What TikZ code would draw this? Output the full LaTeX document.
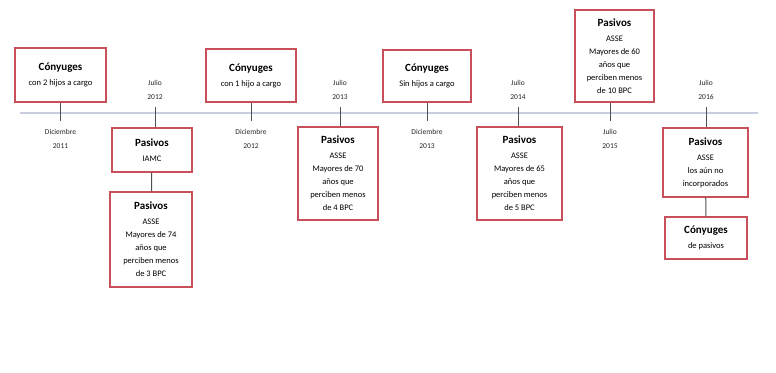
\documentclass[tikz,border=0pt]{standalone}
\usepackage{fontspec}
\setmainfont{Carlito}
\usepackage{tikz}
\definecolor{boxred}{RGB}{200,80,90}
\definecolor{lineblue}{RGB}{200,206,224}
\definecolor{tickgray}{RGB}{80,80,80}
\newcommand{\cabecera}[1]{{\fontsize{11}{13}\selectfont\bfseries #1}\\[2pt]}

\begin{document}
\begin{tikzpicture}[x=1pt,y=-1pt]
                \tikzstyle{evento}=[rectangle,draw=boxred,line width=1.4pt,fill=white,align=center,inner sep=2pt,font=\fontsize{8.5}{13}\selectfont]
                \tikzstyle{fecha}=[align=center,font=\fontsize{7.5}{14}\selectfont,text=black!85]
                \tikzstyle{tick}=[draw=tickgray,line width=1pt]
                \useasboundingbox (0,0) rectangle (776,372);

                % linea de tiempo
                \coordinate (ini) at (20,113);
                \coordinate (fin) at (758,113);
                \draw[lineblue,line width=2.5pt] (ini) -- (fin);

                % conyuges, arriba
                \node[evento,minimum width=91pt,minimum height=54pt] (C-1) at (60.5,75) {\cabecera{Cónyuges}con 2 hijos a cargo};
                \node[evento,minimum width=90pt,minimum height=53pt] (C-2) at (251,75.5) {\cabecera{Cónyuges}con 1 hijo a cargo};
                \node[evento,minimum width=88pt,minimum height=52pt] (C-3) at (427,76) {\cabecera{Cónyuges}Sin hijos a cargo};

                % pasivos
                \node[evento,minimum width=80pt,minimum height=44pt] (P-1) at (152,150) {\cabecera{Pasivos}IAMC};
                \node[evento,minimum width=82pt,minimum height=95pt] (P-2) at (151,239.5) {\cabecera{Pasivos}ASSE\\Mayores de 74\\años que\\perciben menos\\de 3 BPC};
                \node[evento,minimum width=80pt,minimum height=93pt] (P-3) at (338,173.5) {\cabecera{Pasivos}ASSE\\Mayores de 70\\años que\\perciben menos\\de 4 BPC};
                \node[evento,minimum width=85pt,minimum height=93pt] (P-4) at (519.5,173.5) {\cabecera{Pasivos}ASSE\\Mayores de 65\\años que\\perciben menos\\de 5 BPC};
                \node[evento,minimum width=79pt,minimum height=92pt] (P-5) at (614.5,56) {\cabecera{Pasivos}ASSE\\Mayores de 60\\años que\\perciben menos\\de 10 BPC};
                \node[evento,minimum width=85pt,minimum height=69pt] (P-6) at (705.5,162.5) {\cabecera{Pasivos}ASSE\\los aún no\\incorporados};
                \node[evento,minimum width=82pt,minimum height=42pt] (C-4) at (706,238) {\cabecera{Cónyuges}de pasivos};

                % diciembre
                \foreach \n/\x/\a in {1/60.5/2011, 2/251/2012, 3/427/2013} {
                        \coordinate (T-\n) at (\x,121);
                        \draw[tick] (C-\n) -- (T-\n);
                        \node[fecha] (D-\n) at (\x,139) {Diciembre\\\a};
                }

                % julio
                \foreach \n/\x/\a/\caja in {1/155/2012/P-1, 2/340/2013/P-3, 3/518/2014/P-4, 5/706/2016/P-6} {
                        \coordinate (J-\n) at (\x,107);
                        \draw[tick] (J-\n) -- (\caja.north -| J-\n);
                        \node[fecha] (L-\n) at (\x,90) {Julio\\\a};
                }
                \coordinate (J-4) at (610,121);
                \draw[tick] (P-5.south -| J-4) -- (J-4);
                \node[fecha] (L-4) at (610,139) {Julio\\2015};

                \draw[tick] (P-1) -- (P-2);
                \draw[tick] (P-6) -- (C-4);
\end{tikzpicture}
\end{document}
